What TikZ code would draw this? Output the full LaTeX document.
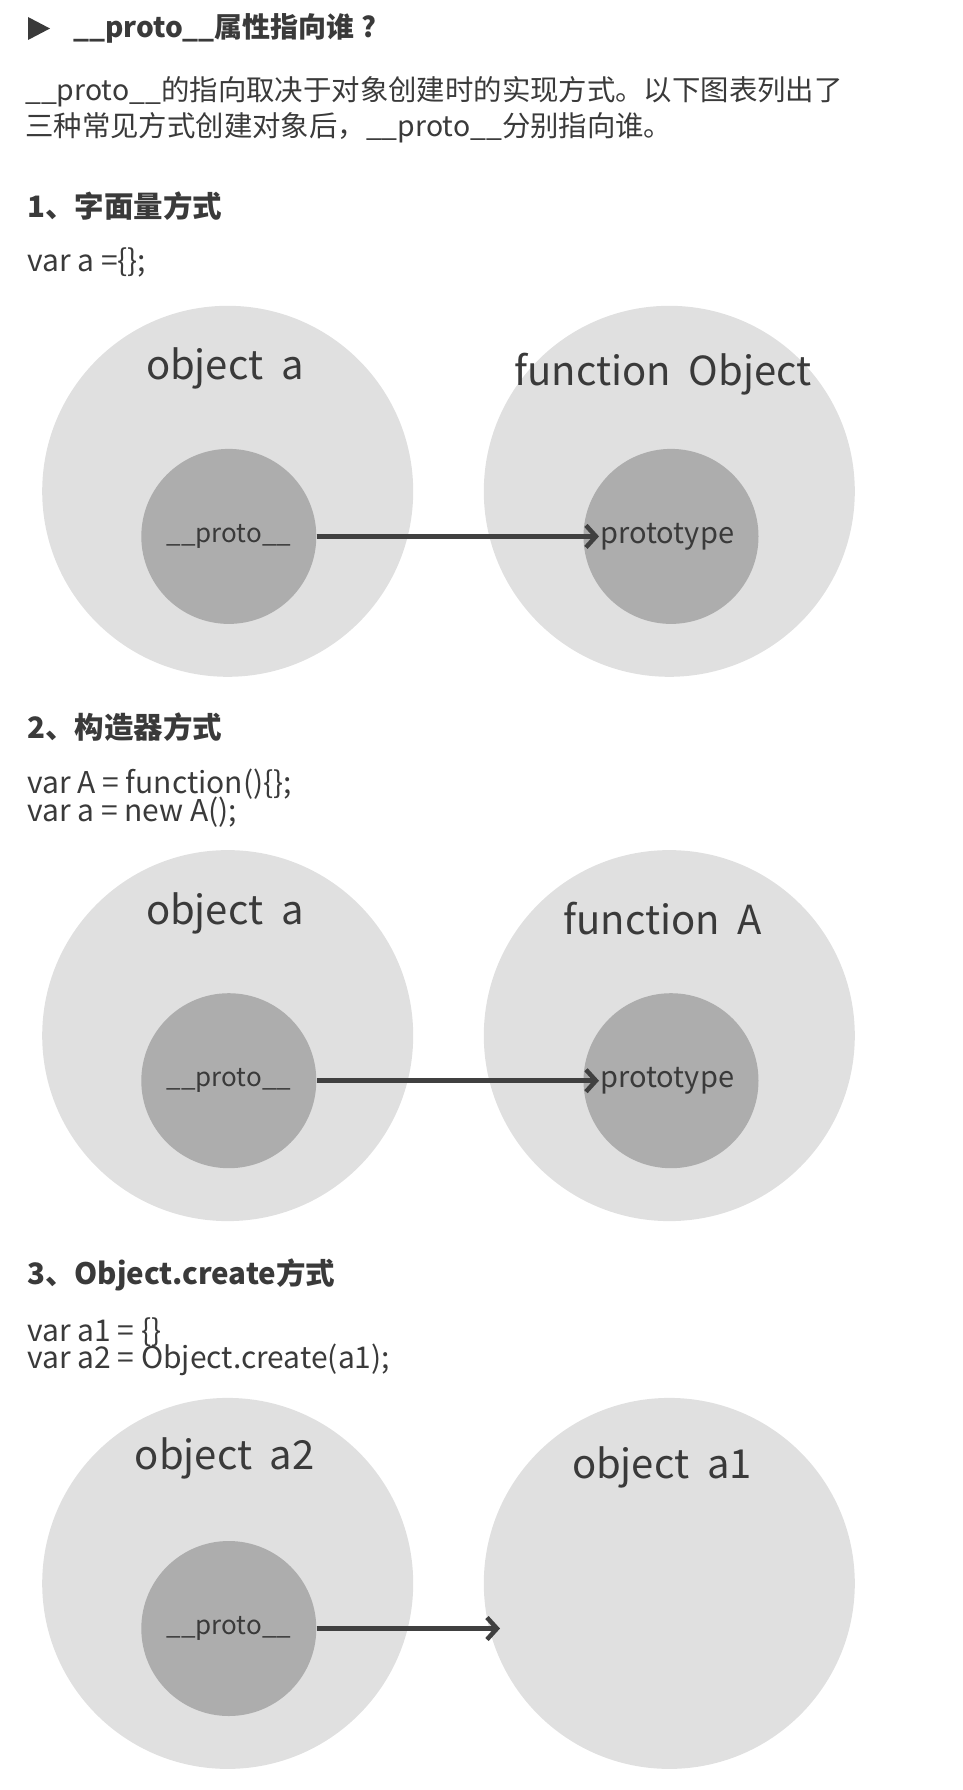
\documentclass[tikz,border=0pt]{standalone}
\usepackage{fontspec}
\setmainfont{Noto Sans CJK SC}
\usetikzlibrary{arrows.meta}
\definecolor{outerc}{HTML}{E0E0E0}
\definecolor{innerc}{HTML}{ADADAD}
\definecolor{txt}{HTML}{3A3A3A}
\definecolor{arr}{HTML}{404040}
\begin{document}
\begin{tikzpicture}[x=1pt,y=-1pt,
  outer/.style={circle,fill=outerc,minimum size=371pt,inner sep=0pt},
  inner/.style={circle,fill=innerc,minimum size=175pt,inner sep=0pt,text=txt,font=\fontsize{26}{30}\selectfont},
  lbl/.style={text=txt,font=\fontsize{40}{46}\selectfont,inner sep=0pt},
  para/.style={anchor=west,inner sep=0pt,text=txt,font=\fontsize{28.4}{32}\selectfont},
  code/.style={anchor=west,inner sep=0pt,text=txt,font=\fontsize{30}{32}\selectfont},
  head/.style={anchor=west,inner sep=0pt,text=txt,font=\bfseries\fontsize{29.5}{34}\selectfont},
  ptr/.style={draw=arr,line width=4.5pt,-{Straight Barb[length=10pt,width=22pt,line width=4.5pt]}}]
\useasboundingbox (0,0) rectangle (962,1790);
% header
\fill[txt] (28,17) -- (50,28.5) -- (28,40) -- cycle;
\node[head,font=\bfseries\fontsize{28}{32}\selectfont] (title) at (73,28.5) {\_\_proto\_\_属性指向谁 ?};
\node[para] (p1) at (25,91.3) {\_\_proto\_\_的指向取决于对象创建时的实现方式。以下图表列出了};
\node[para] (p2) at (25,127.8) {三种常见方式创建对象后，\_\_proto\_\_分别指向谁。};
% section 1
\node[head] (h1) at (27,206.6) {1、字面量方式};
\node[code] (c1) at (27,262.5) {var a =\{\};};
\node[outer] (o1l) at (227.7,491.3) {};
\node[outer] (o1r) at (669.3,491.3) {};
\node[lbl] (t1l) at (224.8,368.6) {object\ \ a};
\node[lbl] (t1r) at (663,374.3) {function\ \ Object};
\node[inner] (i1l) at (228.8,536.4) {\_\_proto\_\_};
\node[inner] (i1r) at (671,536.4) {};
\node[inner,fill=none,anchor=west,inner sep=0pt,minimum size=0pt,font=\fontsize{29}{32}\selectfont] (pt1) at (599,536.4) {prototype};
\draw[ptr] (i1l.east) -- (pt1.west);
% section 2
\node[head] (h2) at (27,727) {2、构造器方式};
\node[code] (c2a) at (27,784) {var A = function()\{\};};
\node[code] (c2b) at (27,812.5) {var a = new A();};
\node[outer] (o2l) at (227.7,1035.6) {};
\node[outer] (o2r) at (669.3,1035.6) {};
\node[lbl] (t2l) at (224.8,913) {object\ \ a};
\node[lbl] (t2r) at (663,918.7) {function\ \ A};
\node[inner] (i2l) at (228.8,1080.7) {\_\_proto\_\_};
\node[inner] (i2r) at (671,1080.7) {};
\node[inner,fill=none,anchor=west,inner sep=0pt,minimum size=0pt,font=\fontsize{29}{32}\selectfont] (pt2) at (599,1080.7) {prototype};
\draw[ptr] (i2l.east) -- (pt2.west);
% section 3
\node[head] (h3) at (27,1274.7) {3、Object.create方式};
\node[code] (c3a) at (27,1331.8) {var a1 = \{\}};
\node[code] (c3b) at (27,1360.3) {var a2 = Object.create(a1);};
\node[outer] (o3l) at (227.7,1583.4) {};
\node[outer] (o3r) at (669.3,1583.4) {};
\node[lbl] (t3l) at (224.8,1458.4) {object\ \ a2};
\node[lbl] (t3r) at (661.9,1467.6) {object\ \ a1};
\node[inner] (i3l) at (228.8,1628.5) {\_\_proto\_\_};
\coordinate (e3) at (500,1628.5);
\draw[ptr] (i3l.east) -- (e3);
\end{tikzpicture}
\end{document}
